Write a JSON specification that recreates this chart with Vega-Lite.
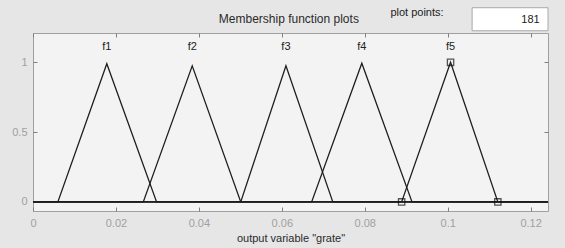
{
  "$schema": "https://vega.github.io/schema/vega-lite/v6.json",
  "width": 515,
  "height": 178,
  "autosize": {"type": "none"},
  "padding": {"left": 33, "top": 33, "right": 17, "bottom": 37},
  "background": "#e6e6e6",
  "config": {
    "view": {"fill": "#f3f3f3", "stroke": "#a0a0a0", "strokeWidth": 1},
    "font": "Liberation Sans"
  },
  "datasets": {
    "mf": [
      {"name": "f1", "x": 0, "mu": 0},
      {"name": "f1", "x": 0.006, "mu": 0},
      {"name": "f1", "x": 0.0178, "mu": 0.99},
      {"name": "f1", "x": 0.0298, "mu": 0},
      {"name": "f1", "x": 0.1242, "mu": 0},
      {"name": "f2", "x": 0, "mu": 0},
      {"name": "f2", "x": 0.0266, "mu": 0},
      {"name": "f2", "x": 0.0384, "mu": 0.975},
      {"name": "f2", "x": 0.0501, "mu": 0},
      {"name": "f2", "x": 0.1242, "mu": 0},
      {"name": "f3", "x": 0, "mu": 0},
      {"name": "f3", "x": 0.0501, "mu": 0},
      {"name": "f3", "x": 0.061, "mu": 0.975},
      {"name": "f3", "x": 0.0723, "mu": 0},
      {"name": "f3", "x": 0.1242, "mu": 0},
      {"name": "f4", "x": 0, "mu": 0},
      {"name": "f4", "x": 0.0672, "mu": 0},
      {"name": "f4", "x": 0.0793, "mu": 0.994},
      {"name": "f4", "x": 0.0914, "mu": 0},
      {"name": "f4", "x": 0.1242, "mu": 0},
      {"name": "f5", "x": 0, "mu": 0},
      {"name": "f5", "x": 0.0889, "mu": 0},
      {"name": "f5", "x": 0.1007, "mu": 1},
      {"name": "f5", "x": 0.1121, "mu": 0},
      {"name": "f5", "x": 0.1242, "mu": 0}
    ],
    "labels": [
      {"name": "f1", "x": 0.0178, "mu": 1.11},
      {"name": "f2", "x": 0.0384, "mu": 1.11},
      {"name": "f3", "x": 0.061, "mu": 1.11},
      {"name": "f4", "x": 0.0793, "mu": 1.11},
      {"name": "f5", "x": 0.1007, "mu": 1.11}
    ],
    "markers": [
      {"x": 0.0889, "mu": 0},
      {"x": 0.1007, "mu": 1},
      {"x": 0.1121, "mu": 0}
    ],
    "one": [{}]
  },
  "layer": [
    {
      "data": {"name": "mf"},
      "mark": {"type": "line", "color": "#1e1e1e"},
      "encoding": {
        "x": {
          "field": "x", "type": "quantitative",
          "scale": {"domain": [0, 0.1242], "nice": false, "zero": false},
          "axis": {
            "orient": "bottom", "values": [0, 0.02, 0.04, 0.06, 0.08, 0.1, 0.12], "format": "~g",
            "domain": false, "grid": false, "tickSize": -4, "tickColor": "#808080",
            "labelColor": "#a0a0a0", "labelFontSize": 11, "labelPadding": 10,
            "title": "output variable \"grate\"", "titleFontSize": 11, "titleFontWeight": "normal",
            "titleColor": "#2a2a2a", "titlePadding": 4, "labelFlush": false
          }
        },
        "y": {
          "field": "mu", "type": "quantitative",
          "scale": {"domain": [-0.065, 1.21], "nice": false, "zero": false},
          "axis": {
            "orient": "left", "values": [0, 0.5, 1], "format": "~g",
            "domain": false, "grid": false, "tickSize": -4, "tickColor": "#808080",
            "labelColor": "#a0a0a0", "labelFontSize": 11, "labelPadding": 10,
            "title": null
          }
        },
        "detail": {"field": "name"},
        "strokeWidth": {"field": "name", "type": "nominal", "scale": {"domain": ["f1", "f2", "f3", "f4", "f5"], "range": [1.3, 1.3, 1.3, 1.3, 2.4]}, "legend": null}
      }
    },
    {
      "data": {"name": "labels"},
      "mark": {"type": "text", "fontSize": 11, "color": "#222222", "baseline": "middle"},
      "encoding": {
        "x": {"field": "x", "type": "quantitative", "axis": {"orient": "top", "values": [0, 0.02, 0.04, 0.06, 0.08, 0.1, 0.12], "labels": false, "domain": false, "grid": false, "tickSize": -4, "tickColor": "#808080", "title": null}},
        "y": {"field": "mu", "type": "quantitative", "axis": {"orient": "right", "values": [0, 0.5, 1], "labels": false, "domain": false, "grid": false, "tickSize": -4, "tickColor": "#808080", "title": null}},
        "text": {"field": "name"}
      }
    },
    {
      "data": {"name": "markers"},
      "mark": {"type": "point", "shape": "square", "size": 40, "filled": false, "stroke": "#111111", "strokeWidth": 1.3},
      "encoding": {
        "x": {"field": "x", "type": "quantitative", "axis": null},
        "y": {"field": "mu", "type": "quantitative", "axis": null}
      }
    },
    {
      "data": {"name": "one"},
      "mark": {"type": "text", "fontSize": 12, "color": "#2a2a2a", "baseline": "middle", "align": "center"},
      "encoding": {
        "x": {"datum": 0.0617, "type": "quantitative", "axis": null},
        "y": {"datum": 1.31, "type": "quantitative", "axis": null},
        "text": {"value": "Membership function plots"}
      }
    },
    {
      "data": {"name": "one"},
      "mark": {"type": "text", "fontSize": 11, "color": "#222222", "baseline": "middle", "align": "center"},
      "encoding": {
        "x": {"datum": 0.0926, "type": "quantitative", "axis": null},
        "y": {"datum": 1.35, "type": "quantitative", "axis": null},
        "text": {"value": "plot points:"}
      }
    },
    {
      "data": {"name": "one"},
      "mark": {"type": "rect", "fill": "#ffffff", "stroke": "#a8a8a8", "strokeWidth": 1},
      "encoding": {
        "x": {"datum": 0.1059, "type": "quantitative", "axis": null},
        "x2": {"datum": 0.1242},
        "y": {"datum": 1.391, "type": "quantitative", "axis": null},
        "y2": {"datum": 1.226}
      }
    },
    {
      "data": {"name": "one"},
      "mark": {"type": "text", "fontSize": 11, "color": "#222222", "baseline": "middle", "align": "right"},
      "encoding": {
        "x": {"datum": 0.1222, "type": "quantitative", "axis": null},
        "y": {"datum": 1.305, "type": "quantitative", "axis": null},
        "text": {"value": "181"}
      }
    }
  ]
}
